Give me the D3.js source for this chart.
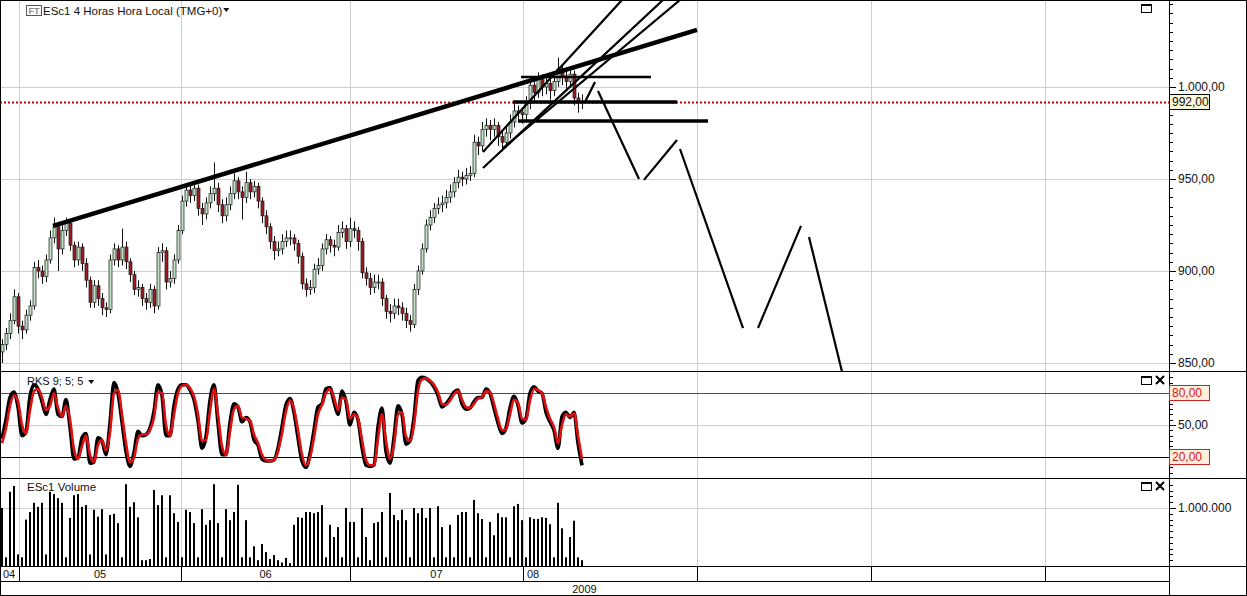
<!DOCTYPE html>
<html><head><meta charset="utf-8">
<script src="https://cdn.jsdelivr.net/npm/d3@7"></script>
<style>body{margin:0;background:#fff;overflow:hidden} text{font-family:"Liberation Sans",Arial,sans-serif;}</style>
</head><body><svg id="c" width="1247" height="596"></svg>
<script>
// ---------- DATA ----------
const firstOpen = 856;
const closes = [860,866,873,886,870,868,876,881,902,900,
897,906,918,924,912,922,926,914,906,913,
904,895,883,892,885,880,879,906,912,906,
913,905,898,890,891,885,883,890,881,910,
911,894,896,906,922,938,944,941,945,934,
931,937,942,945,936,930,936,942,949,943,
940,948,943,946,938,930,924,916,911,912,
916,918,918,915,908,893,890,891,901,903,
912,917,914,913,921,923,916,923,922,916,
899,896,891,894,894,885,878,877,881,880,
877,873,871,890,900,912,925,929,934,936,
937,940,943,948,951,950,952,953,970,968,
977,979,977,979,973,970,975,981,987,986,
985,991,1001,997,1004,1000,1002,998,1003,1010,
1006,1003,1007,994,992,992];
const highs = [863,869,877,890,888,873,879,884,905,906,
903,909,922,929,926,925,929,928,916,916,
915,907,897,895,895,888,883,909,915,914,
923,916,907,900,895,893,888,893,892,913,
915,913,900,909,925,941,947,948,949,947,
937,940,946,959,948,939,940,946,953,951,
946,954,950,949,948,940,933,926,919,916,
920,922,922,920,917,910,896,895,904,907,
915,920,919,917,925,927,925,929,927,924,
918,902,899,898,898,896,887,882,885,885,
883,880,876,893,903,915,928,933,937,940,
941,944,947,951,955,954,956,957,974,973,
981,983,982,983,981,976,979,985,991,990,
989,995,1005,1004,1008,1007,1006,1005,1007,1016,
1012,1009,1011,1009,997,996];
const lows = [850,857,863,871,866,863,866,873,879,896,
893,894,904,915,900,909,919,911,902,903,
900,891,880,880,881,876,875,877,903,902,
903,901,894,887,886,881,879,880,877,879,
905,890,891,893,904,920,935,937,938,930,
925,928,934,938,932,926,927,933,939,939,
928,937,939,940,934,926,920,912,906,908,
909,913,914,911,904,890,886,887,888,898,
900,909,910,908,911,918,912,913,918,911,
896,892,887,888,890,881,874,872,874,876,
873,869,867,869,887,898,910,922,926,931,
932,934,937,940,945,946,947,949,951,963,
965,973,971,973,968,965,967,972,978,981,
980,982,988,992,994,995,996,993,995,1000,
1001,999,1000,990,986,988];
const stochK = [37,55,76,81,67,40,44,77,88,84,
72,60,74,84,60,58,74,48,18,19,
38,42,14,15,38,35,22,52,90,80,
53,25,11,24,44,40,41,47,63,88,
78,40,40,68,84,88,88,83,74,54,
28,39,73,88,52,22,22,52,70,67,
53,57,53,36,31,18,16,16,17,28,
48,69,75,62,38,16,10,23,45,67,
70,84,85,72,60,82,72,50,62,55,
29,12,11,12,48,66,25,14,38,68,
60,32,35,57,92,95,94,91,86,78,
67,70,75,81,83,70,65,66,72,76,
76,84,80,66,52,42,47,66,77,69,
52,56,80,86,82,80,62,53,45,28,
58,62,57,62,33,12];
const stochD = [33,47,68,78,72,50,42,64,82,84,
76,64,68,80,66,58,68,55,27,18,
30,40,22,15,31,36,26,43,80,83,
60,33,15,19,37,41,41,45,57,81,
80,50,40,60,80,87,88,85,77,60,
35,36,63,84,60,30,22,44,65,68,
57,56,54,41,33,22,17,16,17,25,
42,63,73,65,45,22,12,19,38,60,
69,80,84,76,64,76,74,56,60,56,
36,17,12,12,37,60,35,18,31,60,
62,39,35,50,82,93,94,92,88,81,
70,69,73,79,82,74,67,66,70,75,
76,82,81,70,56,45,46,60,74,71,
56,55,73,84,83,80,67,56,48,33,
50,60,58,61,40,18];
// volume in millions of contracts
const volume = [1.0,0.15,1.28,1.38,0.2,0.15,0.8,0.93,1.09,1.02,
1.09,0.2,1.28,1.24,1.17,1.09,0.15,0.83,1.22,1.24,
1.02,1.05,0.2,0.97,0.85,0.98,0.2,0.88,0.9,0.74,
0.15,1.41,1.02,1.1,0.84,0.1,0.1,0.12,1.31,1.05,
1.22,0.15,1.22,0.91,0.76,0.15,0.97,0.93,0.74,0.15,
0.98,0.71,0.79,1.41,0.74,0.15,0.98,0.79,0.93,1.4,
0.15,0.79,0.15,0.34,0.1,0.38,0.24,0.12,0.19,0.1,
0.06,0.14,0.05,0.71,0.84,0.83,0.93,0.93,0.91,0.93,
1.05,0.15,0.71,0.5,0.67,0.15,1.0,0.76,0.76,0.15,
1.0,0.5,0.1,0.74,0.76,0.93,0.15,1.26,0.88,0.79,
0.97,0.79,0.15,1.0,0.91,1.0,0.83,1.0,0.15,1.03,
0.67,0.15,0.71,0.15,0.88,0.93,0.93,0.15,1.14,0.91,
0.81,0.15,0.76,0.53,0.91,0.84,0.84,0.15,1.03,1.07,
0.79,0.15,0.84,0.81,0.81,0.84,0.83,0.72,0.15,1.09,
0.65,0.15,0.5,0.78,0.15,0.1];
const lastPrice = 992;
const priceTicks = [850, 900, 950, 1000];
const stochGrid = [50];
const stochUpper = 80, stochLower = 20;
const volTicks = [1000000];
// month boundaries and label anchors in bar units (4-hour bars)
const monthBounds = [4.75, 45.25, 87.5, 130.75, 174.25, 217.75, 261.25];
const monthLabels = ["04", "05", "06", "07", "08"];
const monthLabelAt = [2.25, 25, 66.4, 109.1, 133.25];
const yearLabel = "2009";
const titleText = "ESc1 4 Horas Hora Local (TMG+0)";
const stochTitle = "RKS 9; 5; 5";
const volTitle = "ESc1 Volume";
// hand-drawn analysis lines: [bar1, price1, bar2, price2]
const thickTrend = [[13.25, 924.5, 174.25, 1031]];
const thickLevels = [[128.25, 991.8, 169.25, 991.8], [129.5, 981.5, 177, 981.5]];
const thinLevels = [[130.25, 1005.4, 162.75, 1005.4]];
const channelLines = [[120.75, 964.7, 155.5, 1047.3], [125.75, 966.8, 170, 1047.3], [120.75, 956.0, 165.75, 1047.3]];
const zigzag = [[146.25, 991.8, 148.75, 1002.7], [149.5, 997.8, 159.75, 950.0], [161, 949.5, 169.25, 971.2],
  [170, 966.3, 185.75, 869.0], [189.5, 869.0, 200.25, 924.5], [202.25, 918.5, 212, 832]];

// ---------- LAYOUT ----------
const W = 1247, H = 596, plotR = 1169;
const mainBot = 371.5, stBot = 478.5, vBot = 566.5, axBot = 581.5;
const svg = d3.select("#c");
const loc = d3.formatLocale({decimal: ",", thousands: ".", grouping: [3], currency: ["", ""]});
const fPrice = loc.format(",.2f"), fVol = loc.format(",d");

const x = d3.scaleLinear().domain([0, 292]).range([0, 1168]);
const yP = d3.scaleLinear().domain([845.65, 1047.28]).range([371, 0]);
const yS = d3.scaleLinear().domain([0, 100]).range([478, 372]);
const yV = d3.scaleLinear().domain([0, 1.5]).range([566, 479]);

const defs = svg.append("defs");
function clip(id, y0, y1) { defs.append("clipPath").attr("id", id).append("rect").attr("x", 0).attr("y", y0).attr("width", plotR).attr("height", y1 - y0); }
clip("cm", 0, 371); clip("cs", 372, 478); clip("cv", 479, 566);

// grids
const grid = svg.append("g").attr("stroke", "#cfcfcf").attr("stroke-width", 1);
monthBounds.forEach(b => grid.append("line").attr("x1", Math.round(x(b)) + 0.5).attr("x2", Math.round(x(b)) + 0.5).attr("y1", 0).attr("y2", vBot));
priceTicks.forEach(p => grid.append("line").attr("x1", 0).attr("x2", plotR).attr("y1", Math.round(yP(p)) + 0.5).attr("y2", Math.round(yP(p)) + 0.5));
stochGrid.forEach(v => grid.append("line").attr("x1", 0).attr("x2", plotR).attr("y1", Math.round(yS(v)) + 0.5).attr("y2", Math.round(yS(v)) + 0.5));
volTicks.forEach(v => grid.append("line").attr("x1", 0).attr("x2", plotR).attr("y1", Math.round(yV(v / 1e6)) + 0.5).attr("y2", Math.round(yV(v / 1e6)) + 0.5));
svg.append("line").attr("x1", 0).attr("x2", plotR).attr("y1", Math.round(yS(stochUpper)) + 0.5).attr("y2", Math.round(yS(stochUpper)) + 0.5).attr("stroke", "#c41a1a");
svg.append("line").attr("x1", 0).attr("x2", plotR).attr("y1", Math.round(yS(stochLower)) + 0.5).attr("y2", Math.round(yS(stochLower)) + 0.5).attr("stroke", "#000");

// titles
const tg = svg.append("g");
tg.append("rect").attr("x", 26.5).attr("y", 5.5).attr("width", 15).attr("height", 10).attr("fill", "#fff").attr("stroke", "#555");
tg.append("text").attr("x", 34).attr("y", 14).attr("text-anchor", "middle").attr("font-size", 9).attr("font-weight", "bold").attr("fill", "#888").text("FT");
const t1 = tg.append("text").attr("x", 43).attr("y", 15).attr("font-size", 11.5).attr("fill", "#111").text(titleText);
const tw = t1.node().getComputedTextLength();
tg.append("path").attr("d", `M${43 + tw + 1},8 h6 l-3,4 z`).attr("fill", "#111");
const t2 = tg.append("text").attr("x", 27).attr("y", 385).attr("font-size", 11).attr("fill", "#111").text(stochTitle);
const tw2 = t2.node().getComputedTextLength();
tg.append("path").attr("d", `M${27 + tw2 + 5},380 h6 l-3,4 z`).attr("fill", "#111");
tg.append("text").attr("x", 27).attr("y", 491).attr("font-size", 11.5).attr("fill", "#111").text(volTitle);

// candles
const cg = svg.append("g").attr("clip-path", "url(#cm)");
const candles = closes.map((c, i) => ({i, o: i === 0 ? firstOpen : closes[i - 1], c, h: highs[i], l: lows[i]}));
cg.selectAll("line.w").data(candles).join("line")
  .attr("x1", d => Math.round(x(d.i + 0.5)) + 0.5).attr("x2", d => Math.round(x(d.i + 0.5)) + 0.5)
  .attr("y1", d => yP(d.h)).attr("y2", d => yP(d.l)).attr("stroke", "#111").attr("stroke-width", 1);
cg.selectAll("rect.b").data(candles).join("rect")
  .attr("x", d => Math.round(x(d.i + 0.5)) - 1).attr("width", 3)
  .attr("y", d => yP(Math.max(d.o, d.c))).attr("height", d => Math.max(1, Math.abs(yP(d.o) - yP(d.c))))
  .attr("fill", d => d.c >= d.o ? "#bfe0c0" : "#9c1c22").attr("stroke", "#1a1a1a").attr("stroke-width", 0.7);

// last price dotted line
svg.append("line").attr("x1", 0).attr("x2", plotR).attr("y1", Math.round(yP(lastPrice)) + 0.5).attr("y2", Math.round(yP(lastPrice)) + 0.5)
  .attr("stroke", "#c00000").attr("stroke-width", 2).attr("stroke-dasharray", "2,2");

// analysis lines
const ag = svg.append("g").attr("clip-path", "url(#cm)").attr("stroke", "#000").attr("stroke-linecap", "butt");
function seg(arr, w) { arr.forEach(s => ag.append("line").attr("x1", x(s[0])).attr("y1", yP(s[1])).attr("x2", x(s[2])).attr("y2", yP(s[3])).attr("stroke-width", w)); }
seg(thickTrend, 4.5); seg(thickLevels, 3.5); seg(thinLevels, 2.5); seg(channelLines, 2.2); seg(zigzag, 2.2);

// stochastic
const sg = svg.append("g").attr("clip-path", "url(#cs)");
const lineK = d3.line().x((d, i) => x(i + 0.5)).y(d => yS(d)).curve(d3.curveMonotoneX);
sg.append("path").attr("d", lineK(stochK)).attr("fill", "none").attr("stroke", "#000").attr("stroke-width", 3.6).attr("stroke-linejoin", "round");
sg.append("path").attr("d", lineK(stochD)).attr("fill", "none").attr("stroke", "#e01010").attr("stroke-width", 2.6).attr("stroke-linejoin", "round");

// volume
const vg = svg.append("g").attr("clip-path", "url(#cv)");
vg.selectAll("rect").data(volume).join("rect")
  .attr("x", (d, i) => Math.round(x(i + 0.5)) - 1).attr("width", 2)
  .attr("y", d => yV(d)).attr("height", d => yV(0) - yV(d)).attr("fill", "#000");

// frames
const fg = svg.append("g").attr("stroke", "#000").attr("stroke-width", 1).attr("fill", "none");
fg.append("rect").attr("x", 0.5).attr("y", 0.5).attr("width", W - 1).attr("height", H - 1);
fg.append("line").attr("x1", plotR + 0.5).attr("x2", plotR + 0.5).attr("y1", 0).attr("y2", H);
[mainBot, stBot, vBot].forEach(y => fg.append("line").attr("x1", 0).attr("x2", W).attr("y1", y).attr("y2", y));
fg.append("line").attr("x1", 0).attr("x2", plotR).attr("y1", axBot).attr("y2", axBot);
monthBounds.forEach(b => fg.append("line").attr("x1", Math.round(x(b)) + 0.5).attr("x2", Math.round(x(b)) + 0.5).attr("y1", vBot).attr("y2", axBot));

// x labels
const xl = svg.append("g").attr("font-size", 11).attr("fill", "#111").attr("text-anchor", "middle");
monthLabels.forEach((m, k) => xl.append("text").attr("x", x(monthLabelAt[k])).attr("y", 578).text(m));
xl.append("text").attr("x", plotR / 2).attr("y", 593).text(yearLabel);

// right axes
const ra = svg.append("g");
function ticks(scale, lo, hi, step, majorEvery, y0, y1) {
  for (let v = lo; v <= hi + 1e-9; v += step) {
    const y = Math.round(scale(v)) + 0.5;
    if (y < y0 || y > y1) continue;
    const major = Math.abs(v / majorEvery - Math.round(v / majorEvery)) < 1e-6;
    ra.append("line").attr("x1", plotR).attr("x2", plotR + (major ? 7 : 4)).attr("y1", y).attr("y2", y).attr("stroke", "#000");
  }
}
ticks(yP, 850, 1045, 5, 50, 2, 370);
ticks(yS, 0, 100, 5, 50, 373, 477);
ticks(yV, 0, 1.5, 0.1, 1, 480, 565);
priceTicks.forEach(p => ra.append("text").attr("x", 1178).attr("y", yP(p) + 4).attr("font-size", 12).attr("fill", "#111").text(fPrice(p)));
ra.append("text").attr("x", 1178).attr("y", yS(50) + 4).attr("font-size", 12).attr("fill", "#111").text(fPrice(50));
volTicks.forEach(v => ra.append("text").attr("x", 1178).attr("y", yV(v / 1e6) + 4).attr("font-size", 12).attr("fill", "#111").text(fVol(v)));
function box(val, y, fill, stroke, color) {
  ra.append("rect").attr("x", plotR + 0.5).attr("y", Math.round(y) - 7.5).attr("width", 40).attr("height", 15).attr("fill", fill).attr("stroke", stroke);
  ra.append("text").attr("x", 1172).attr("y", y + 4).attr("font-size", 12).attr("fill", color).text(fPrice(val));
}
box(lastPrice, yP(lastPrice), "#fdf9dc", "#000", "#111");
box(stochUpper, yS(stochUpper), "#fdeede", "#d02020", "#d02020");
box(stochLower, yS(stochLower), "#fdeede", "#d02020", "#d02020");

// panel icons
function icons(y, withX) {
  const g = svg.append("g").attr("fill", "none").attr("stroke", "#000");
  g.append("rect").attr("x", 1141.5).attr("y", y + 0.5).attr("width", 10).attr("height", 8);
  g.append("line").attr("x1", 1141.5).attr("x2", 1151.5).attr("y1", y + 1.5).attr("y2", y + 1.5);
  if (withX) {
    g.append("path").attr("d", `M1156,${y} l8,8 M1164,${y} l-8,8`).attr("stroke-width", 2);
  }
}
icons(4, false); icons(376, true); icons(482, true);
</script></body></html>
